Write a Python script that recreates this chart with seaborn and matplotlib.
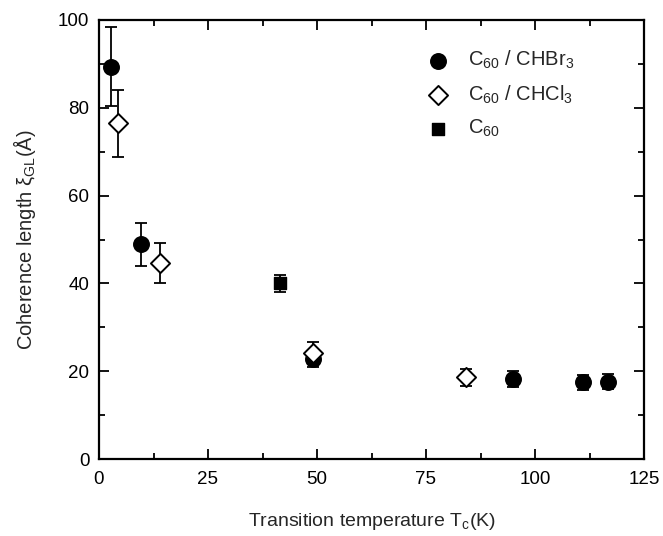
import matplotlib
matplotlib.use("Agg")
import matplotlib.pyplot as plt
import seaborn as sns
import pandas as pd
import numpy as np

# Data
br_x = [2.7, 9.6, 49.0, 95.0, 110.9, 116.8]
br_y = [89.4, 48.9, 22.8, 18.2, 17.5, 17.6]
br_err = [8.9, 4.9, 1.8, 1.9, 1.7, 1.7]

cl_x = [4.4, 14.1, 49.0, 84.1]
cl_y = [76.5, 44.7, 24.2, 18.6]
cl_err = [7.6, 4.5, 2.4, 2.0]

c60_x = [41.6]
c60_y = [40.0]
c60_err = [2.0]

labels = ["C$_{60}$ / CHBr$_3$", "C$_{60}$ / CHCl$_3$", "C$_{60}$"]

sns.set_style("ticks")
plt.rcParams['font.family'] = ['Liberation Sans', 'DejaVu Sans']
plt.rcParams['mathtext.fontset'] = 'custom'
plt.rcParams['mathtext.rm'] = 'Liberation Sans'
plt.rcParams['mathtext.it'] = 'Liberation Sans'
plt.rcParams['mathtext.default'] = 'regular'

fig = plt.figure(figsize=(6.63, 5.36), dpi=100)
ax = fig.add_axes([99/663, 1-459/536, (644-99)/663, (459-20)/536])

df = pd.concat([
    pd.DataFrame({"x": br_x, "y": br_y, "s": labels[0]}),
    pd.DataFrame({"x": cl_x, "y": cl_y, "s": labels[1]}),
    pd.DataFrame({"x": c60_x, "y": c60_y, "s": labels[2]}),
])

for xs, ys, es in [(br_x, br_y, br_err), (cl_x, cl_y, cl_err), (c60_x, c60_y, c60_err)]:
    ax.errorbar(xs, ys, yerr=es, fmt='none', ecolor='black', elinewidth=1.3,
                capsize=4, capthick=1.3, zorder=2)

sns.scatterplot(data=df[df.s == labels[0]], x="x", y="y", marker='o', s=125,
                color='black', edgecolor='black', linewidth=1, ax=ax, zorder=3, label=labels[0])
sns.scatterplot(data=df[df.s == labels[1]], x="x", y="y", marker='D', s=95,
                facecolor='white', edgecolor='black', linewidth=1.4, ax=ax, zorder=3, label=labels[1])
sns.scatterplot(data=df[df.s == labels[2]], x="x", y="y", marker='s', s=80,
                color='black', edgecolor='black', linewidth=1, ax=ax, zorder=3, label=labels[2])

ax.set_xlim(0, 125)
ax.set_ylim(0, 100)
ax.set_xticks([0, 25, 50, 75, 100, 125])
ax.set_yticks([0, 20, 40, 60, 80, 100])
ax.set_xticks(np.arange(12.5, 125, 25), minor=True)
ax.set_yticks(np.arange(10, 100, 20), minor=True)
ax.tick_params(which='both', direction='in', top=True, right=True, width=1.3,
               labelsize=13.5, color='black', labelcolor='black')
ax.tick_params(which='major', length=7)
ax.tick_params(which='minor', length=4)
ax.tick_params(axis='x', which='major', pad=9)
ax.tick_params(axis='y', which='major', pad=7)
for sp in ax.spines.values():
    sp.set_linewidth(1.6)
    sp.set_color('black')

ax.set_xlabel("Transition temperature T$_c$(K)", fontsize=14, labelpad=16)
ax.set_ylabel("Coherence length ξ$_{GL}$(Å)", fontsize=14.5, labelpad=14)

leg = ax.legend(loc='upper right', bbox_to_anchor=(0.905, 0.975), frameon=False,
                fontsize=14.5, handletextpad=0.5, labelspacing=0.6, borderaxespad=0.5)

fig.savefig("out.png", dpi=100)
